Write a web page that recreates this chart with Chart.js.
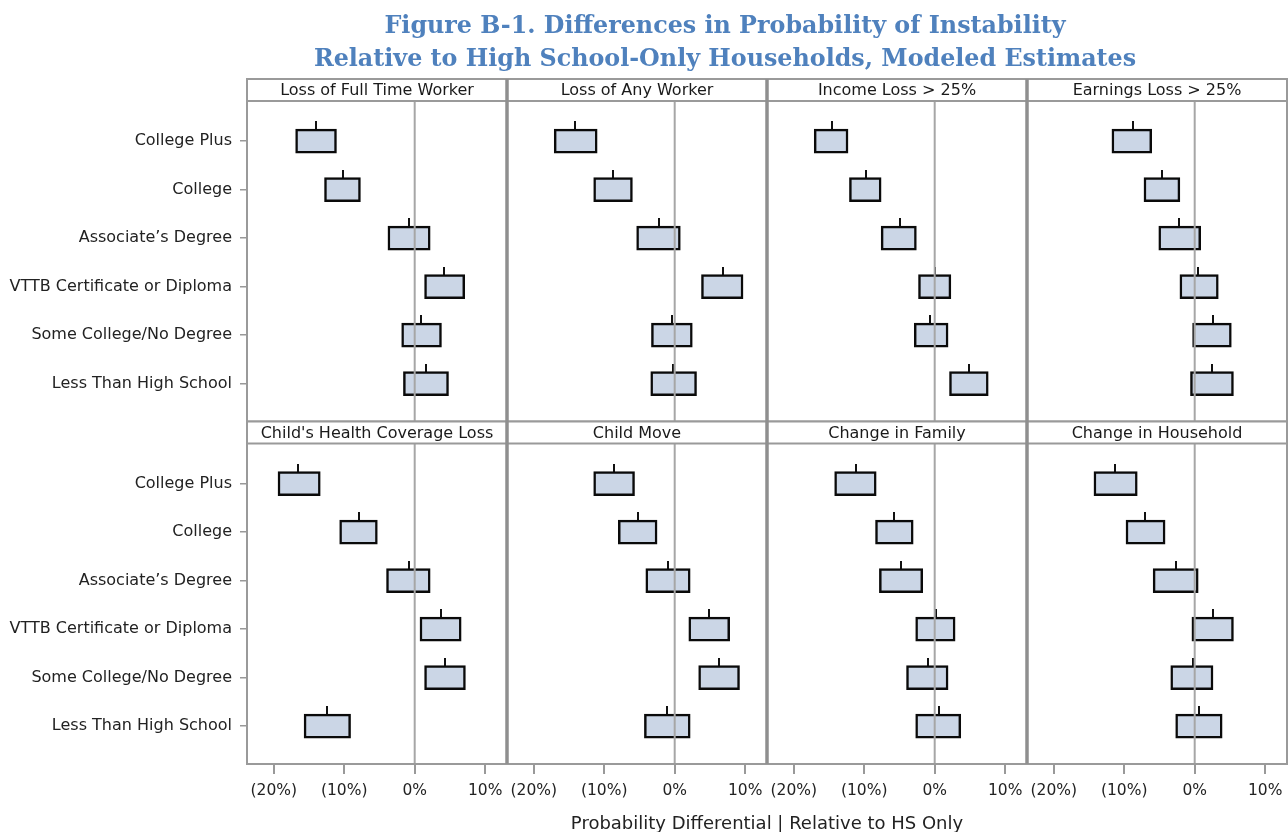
<!DOCTYPE html>
<html>
<head>
<meta charset="utf-8">
<script src="https://cdn.jsdelivr.net/npm/chart.js@4.4.1/dist/chart.umd.min.js"></script>
<style>
  html, body { margin: 0; padding: 0; background: #fff; }
</style>
</head>
<body>
<canvas id="panelChart" width="1288" height="832"></canvas>
<script>
const categories = ['College Plus', 'College', 'Associate\u2019s Degree', 'VTTB Certificate or Diploma', 'Some College/No Degree', 'Less Than High School'];
const panelTitles = ['Loss of Full Time Worker', 'Loss of Any Worker', 'Income Loss > 25%', 'Earnings Loss > 25%',
  'Child\'s Health Coverage Loss', 'Child Move', 'Change in Family', 'Change in Household'];
const xTickValues = [-20, -10, 0, 10];
const xTickLabels = ['(20%)', '(10%)', '0%', '10%'];
const figureTitle = ['Figure B-1. Differences in Probability of Instability', 'Relative to High School-Only Households, Modeled Estimates'];
const axisTitle = 'Probability Differential | Relative to HS Only';

// interval low / high and point estimate, percentage points
const fullTimeLow  = [-16.9, -12.8, -3.8, 1.4, -1.85, -1.6];
const fullTimeHigh = [-11.1, -7.7, 2.2, 7.1, 3.8, 4.8];
const fullTimeEst  = [-14.0, -10.2, -0.8, 4.2, 0.9, 1.6];

const anyWorkerLow  = [-17.1, -11.5, -5.4, 3.8, -3.3, -3.4];
const anyWorkerHigh = [-11.0, -6.0, 0.8, 9.7, 2.5, 3.1];
const anyWorkerEst  = [-14.2, -8.8, -2.2, 6.8, -0.4, -0.2];

const incomeLow  = [-17.1, -12.1, -7.6, -2.3, -2.9, 2.1];
const incomeHigh = [-12.3, -7.6, -2.6, 2.3, 1.9, 7.6];
const incomeEst  = [-14.6, -9.8, -4.9, 0.1, -0.6, 4.8];

const earningsLow  = [-11.75, -7.2, -5.1, -2.1, -0.3, -0.6];
const earningsHigh = [-6.1, -2.1, 0.85, 3.35, 5.2, 5.5];
const earningsEst  = [-8.8, -4.6, -2.2, 0.5, 2.6, 2.5];

const healthLow  = [-19.4, -10.65, -4.0, 0.75, 1.4, -15.7];
const healthHigh = [-13.4, -5.3, 2.2, 6.6, 7.2, -9.1];
const healthEst  = [-16.5, -7.9, -0.8, 3.7, 4.3, -12.4];

const moveLow  = [-11.5, -8.0, -4.1, 2.0, 3.4, -4.3];
const moveHigh = [-5.7, -2.5, 2.2, 7.8, 9.2, 2.2];
const moveEst  = [-8.6, -5.2, -1.0, 4.8, 6.25, -1.1];

const familyLow  = [-14.2, -8.4, -7.85, -2.7, -4.0, -2.7];
const familyHigh = [-8.3, -3.05, -1.7, 2.9, 1.9, 3.7];
const familyEst  = [-11.2, -5.8, -4.8, 0.2, -1.0, 0.6];

const householdLow  = [-14.3, -9.75, -5.9, -0.4, -3.4, -2.7];
const householdHigh = [-8.15, -4.2, 0.5, 5.5, 2.6, 3.9];
const householdEst  = [-11.3, -7.1, -2.65, 2.6, -0.25, 0.6];

const panels = [
  { title: panelTitles[0], low: fullTimeLow, high: fullTimeHigh, est: fullTimeEst, col: 1, row: 1 },
  { title: panelTitles[1], low: anyWorkerLow, high: anyWorkerHigh, est: anyWorkerEst, col: 2, row: 1 },
  { title: panelTitles[2], low: incomeLow, high: incomeHigh, est: incomeEst, col: 3, row: 1 },
  { title: panelTitles[3], low: earningsLow, high: earningsHigh, est: earningsEst, col: 4, row: 1 },
  { title: panelTitles[4], low: healthLow, high: healthHigh, est: healthEst, col: 1, row: 2 },
  { title: panelTitles[5], low: moveLow, high: moveHigh, est: moveEst, col: 2, row: 2 },
  { title: panelTitles[6], low: familyLow, high: familyHigh, est: familyEst, col: 3, row: 2 },
  { title: panelTitles[7], low: householdLow, high: householdHigh, est: householdEst, col: 4, row: 2 }
];

const HEADER_H = 22;
const textFont = '"DejaVu Sans", Verdana, sans-serif';

// little vertical tick sitting on top of each box (the point estimate)
const tickMark = document.createElement('canvas');
tickMark.width = 2;
tickMark.height = 40;
const tctx = tickMark.getContext('2d');
tctx.fillStyle = '#111';
tctx.fillRect(0, 0, 2, 9);

const datasets = [];
panels.forEach(p => {
  const xId = 'x' + p.col, yId = 'y' + p.row;
  datasets.push({
    type: 'bar',
    label: p.title,
    data: categories.map((c, i) => ({ x: [p.low[i], p.high[i]], y: i })),
    xAxisID: xId, yAxisID: yId,
    backgroundColor: '#CBD6E6',
    borderColor: '#0a0a0a',
    borderWidth: 2.5,
    borderSkipped: false,
    barThickness: 24,
    grouped: false
  });
  datasets.push({
    type: 'scatter',
    label: p.title + ' estimate',
    data: categories.map((c, i) => ({ x: p.est[i], y: i })),
    xAxisID: xId, yAxisID: yId,
    pointStyle: tickMark,
    pointRadius: 3,
    showLine: false
  });
});

function noPadding(s) {
  s.paddingLeft = 0;
  s.paddingRight = 0;
  s.paddingTop = 0;
  s.paddingBottom = 0;
}

const scales = {};
[1, 2, 3, 4].forEach(c => {
  scales['x' + c] = {
    type: 'linear', position: 'bottom', stack: 'cols', stackWeight: 1,
    min: -23.8, max: 13.1, offset: false,
    afterFit: s => { s.height = 68; noPadding(s); },
    afterBuildTicks: s => { s.ticks = xTickValues.map(v => ({ value: v })); },
    ticks: {
      callback: v => xTickLabels[xTickValues.indexOf(v)],
      autoSkip: false, maxRotation: 0, padding: 8,
      color: '#222', font: { family: textFont, size: 15.5 }
    },
    grid: { drawOnChartArea: false, drawTicks: true, tickLength: 10, color: '#999', lineWidth: 2, offset: false },
    border: { display: false }
  };
});
[1, 2].forEach(r => {
  scales['y' + r] = {
    type: 'linear', position: 'left', stack: 'rows', stackWeight: 1, weight: 3 - r,
    reverse: true, min: -1.28, max: 5.78, offset: false,
    afterFit: s => { s.width = 247; noPadding(s); },
    afterBuildTicks: s => { s.ticks = categories.map((c, i) => ({ value: i })); },
    ticks: {
      callback: v => categories[v],
      autoSkip: false, padding: 8,
      color: '#222', font: { family: textFont, size: 16 }
    },
    grid: { drawOnChartArea: false, drawTicks: true, tickLength: 7, color: '#999', lineWidth: 1.5, offset: false },
    border: { display: false }
  };
});

const panelFrame = {
  id: 'panelFrame',
  afterDatasetsDraw(chart) {
    const ctx = chart.ctx;
    ctx.save();
    panels.forEach(p => {
      const xs = chart.scales['x' + p.col], ys = chart.scales['y' + p.row];
      const headBottom = ys.top + HEADER_H;
      const zero = xs.getPixelForValue(0);
      ctx.strokeStyle = '#A6A6A6';
      ctx.lineWidth = 2;
      ctx.beginPath();
      ctx.moveTo(zero, headBottom);
      ctx.lineTo(zero, ys.bottom);
      ctx.stroke();

      ctx.fillStyle = '#fff';
      ctx.fillRect(xs.left, ys.top, xs.width, HEADER_H);
      ctx.strokeStyle = '#9A9A9A';
      ctx.lineWidth = 2;
      ctx.beginPath();
      ctx.moveTo(xs.left, headBottom);
      ctx.lineTo(xs.right, headBottom);
      ctx.stroke();
      ctx.strokeRect(xs.left, ys.top, xs.width, ys.height);

      ctx.fillStyle = '#1a1a1a';
      ctx.font = '16px ' + textFont;
      ctx.textAlign = 'center';
      ctx.textBaseline = 'middle';
      ctx.fillText(p.title, (xs.left + xs.right) / 2, ys.top + HEADER_H / 2 + 1);
    });
    // heavier separators between the columns
    const area = chart.chartArea;
    ctx.strokeStyle = '#8F8F8F';
    ctx.lineWidth = 3.5;
    [2, 3, 4].forEach(c => {
      const x = chart.scales['x' + c].left;
      ctx.beginPath();
      ctx.moveTo(x, area.top);
      ctx.lineTo(x, area.bottom);
      ctx.stroke();
    });
    ctx.restore();
  },
  afterDraw(chart) {
    const ctx = chart.ctx;
    const area = chart.chartArea;
    ctx.save();
    ctx.textAlign = 'center';
    ctx.fillStyle = '#4F81BD';
    ctx.font = 'bold 23.8px "DejaVu Serif", "Liberation Serif", serif';
    ctx.textBaseline = 'alphabetic';
    ctx.fillText(figureTitle[0], 725, 33);
    ctx.fillText(figureTitle[1], 725, 66);
    ctx.fillStyle = '#222';
    ctx.font = '18px ' + textFont;
    ctx.textBaseline = 'middle';
    ctx.fillText(axisTitle, (area.left + area.right) / 2, 824);
    ctx.restore();
  }
};

new Chart(document.getElementById('panelChart'), {
  type: 'bar',
  data: { datasets: datasets },
  options: {
    indexAxis: 'y',
    responsive: false,
    animation: false,
    layout: { autoPadding: false, padding: { top: 79, right: 1, left: 0, bottom: 0 } },
    scales: scales,
    plugins: {
      legend: { display: false },
      tooltip: { enabled: false },
      title: { display: false }
    }
  },
  plugins: [panelFrame]
});
</script>
</body>
</html>
